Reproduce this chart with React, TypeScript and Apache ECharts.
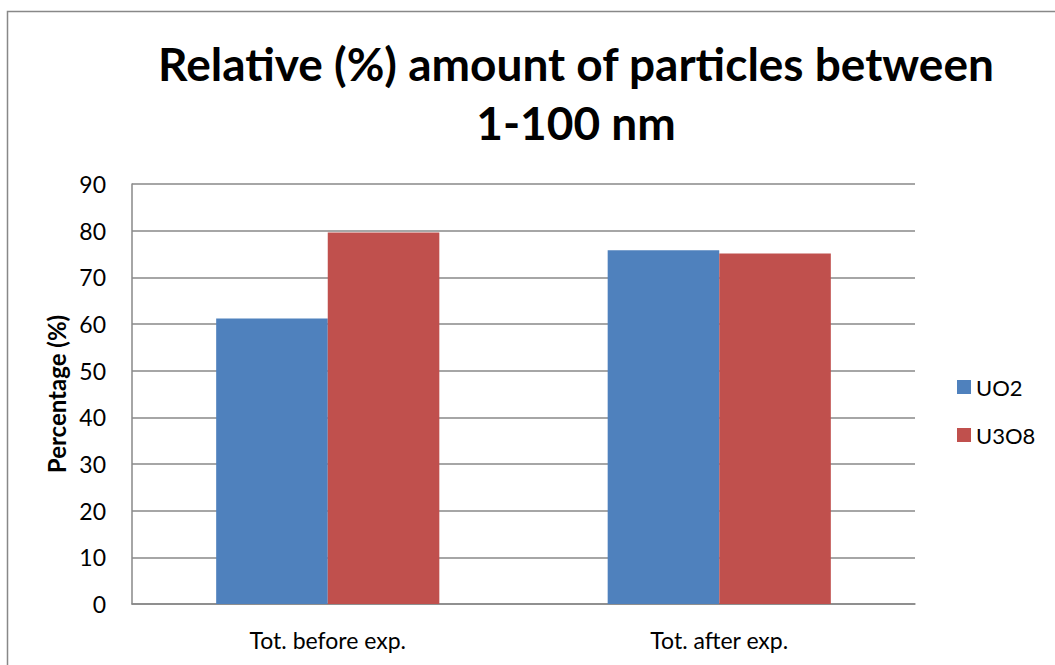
import React, { useEffect, useRef } from "react";
import * as echarts from "echarts";

const categories = ["Tot. before exp.", "Tot. after exp."];
const uo2 = [61.2, 75.8];
const u3o8 = [79.6, 75.1];
const seriesNames = ["UO2", "U3O8"];
const titleLines = ["Relative (%) amount of particles between", "1-100 nm"];

export default function App() {
  const ref = useRef<HTMLDivElement>(null);
  useEffect(() => {
    if (!ref.current) return;
    const chart = echarts.init(ref.current, null, { renderer: "svg" });
    const font = "Lato, 'Open Sans', sans-serif";
    chart.setOption({
      animation: false,
      backgroundColor: "#ffffff",
      textStyle: { fontFamily: font },
      graphic: [
        {
          type: "rect",
          shape: { x: 7.5, y: 11.5, width: 1200, height: 800 },
          style: { fill: "none", stroke: "#888888", lineWidth: 1.5 },
          silent: true,
        },
        {
          type: "text",
          x: 576,
          y: 34,
          style: {
            text: titleLines.join("\n"),
            font: `bold 46px ${font}`,
            fill: "#000000",
            textAlign: "center",
            textVerticalAlign: "top",
            lineHeight: 59,
          },
        },
      ],
      legend: {
        orient: "vertical",
        left: 957,
        top: 376,
        padding: 0,
        itemWidth: 14,
        itemHeight: 14,
        itemGap: 26,
        icon: "rect",
        textStyle: { fontSize: 22, color: "#000", fontFamily: font },
        data: seriesNames,
      },
      grid: { left: 132, right: 140, top: 184, bottom: 61, containLabel: false },
      xAxis: {
        type: "category",
        data: categories,
        axisLine: { lineStyle: { color: "#888888", width: 1.5 } },
        axisTick: { show: false },
        axisLabel: { color: "#000", fontSize: 23, margin: 24, fontFamily: font },
      },
      yAxis: {
        type: "value",
        min: 0,
        max: 90,
        interval: 10,
        name: "Percentage (%)",
        nameLocation: "middle",
        nameGap: 42,
        nameTextStyle: { fontWeight: "bold", fontSize: 24, color: "#000", fontFamily: font },
        axisLine: { show: true, lineStyle: { color: "#888888", width: 1.5 } },
        axisTick: { show: false },
        axisLabel: { color: "#000", fontSize: 23, margin: 26, fontFamily: font },
        splitLine: { lineStyle: { color: "#888888", width: 1.5 } },
      },
      series: [
        {
          name: seriesNames[0],
          type: "bar",
          data: uo2,
          itemStyle: { color: "#4f81bd" },
          barGap: "0%",
          barCategoryGap: "43%",
        },
        {
          name: seriesNames[1],
          type: "bar",
          data: u3o8,
          itemStyle: { color: "#c0504d" },
          barGap: "0%",
          barCategoryGap: "43%",
        },
      ],
    });
    return () => chart.dispose();
  }, []);
  return (
    <div
      ref={ref}
      style={{ position: "absolute", left: 0, top: 0, width: 1055, height: 665 }}
    />
  );
}
